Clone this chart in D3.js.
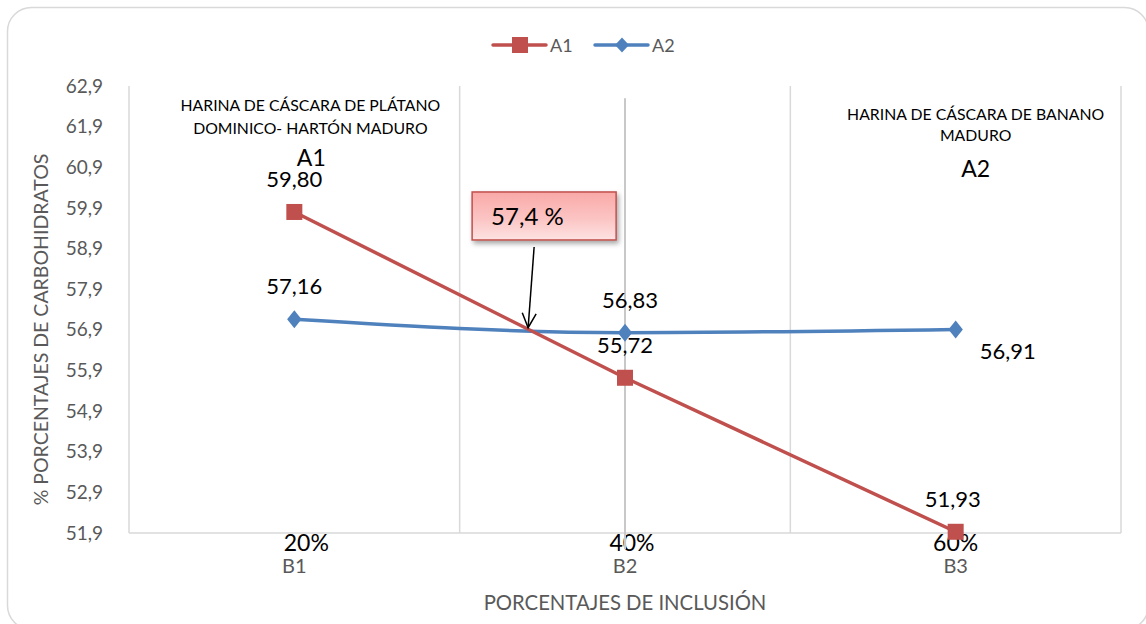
<!DOCTYPE html>
<html>
<head>
<meta charset="utf-8">
<script src="https://cdn.jsdelivr.net/npm/d3@7"></script>
<style>
  html, body { margin: 0; padding: 0; background: #fff; }
  svg { display: block; font-family: Lato, "Open Sans", sans-serif; }
</style>
</head>
<body>
<svg id="chart" width="1146" height="624"></svg>
<script>
// Categories (inclusion levels) and their percentage labels
const categories = ["B1", "B2", "B3"];
const inclusionLabels = ["20%", "40%", "60%"];

// Carbohydrate percentages for each flour
const seriesA1 = [59.80, 55.72, 51.93];
const seriesA2 = [57.16, 56.83, 56.91];
const seriesNames = ["A1", "A2"];

// Y axis ticks
const yTicks = [51.9, 52.9, 53.9, 54.9, 55.9, 56.9, 57.9, 58.9, 59.9, 60.9, 61.9, 62.9];

// Callout value
const calloutText = "57,4 %";

const RED = "#c0504d", BLUE = "#4f81bd", GRID = "#d9d9d9", AXIS_TXT = "#595959";

const svg = d3.select("#chart");
const fmt = v => d3.format(".2f")(v).replace(".", ",");
const fmtTick = v => d3.format(".1f")(v).replace(".", ",");

// Outer frame
svg.append("rect")
  .attr("x", 7.5).attr("y", 7.5).attr("width", 1141).attr("height", 622)
  .attr("rx", 24).attr("ry", 24)
  .attr("fill", "#fff").attr("stroke", GRID).attr("stroke-width", 1.5);

const plot = { left: 129, right: 1121, top: 86, bottom: 533 };

const x = d3.scaleBand().domain(categories).range([plot.left, plot.right]);
const y = d3.scaleLinear().domain([51.9, 62.9]).range([plot.bottom, plot.top]);
const cx = c => x(c) + x.bandwidth() / 2;

// Vertical gridlines between categories
const gridG = svg.append("g");
const bounds = categories.map(c => x(c)).concat([x(categories[categories.length - 1]) + x.bandwidth()]);
gridG.selectAll("line").data(bounds).join("line")
  .attr("x1", d => d).attr("x2", d => d)
  .attr("y1", plot.top).attr("y2", plot.bottom)
  .attr("stroke", GRID).attr("stroke-width", 1.5);

// X axis baseline
svg.append("line")
  .attr("x1", plot.left).attr("x2", plot.right)
  .attr("y1", plot.bottom).attr("y2", plot.bottom)
  .attr("stroke", GRID).attr("stroke-width", 1.5);

// Y axis labels
const yAxis = d3.axisLeft(y).tickValues(yTicks).tickFormat(fmtTick).tickSize(0).tickPadding(26);
const yg = svg.append("g").attr("transform", `translate(${plot.left},0)`).call(yAxis);
yg.select(".domain").remove();
yg.selectAll("text").attr("fill", AXIS_TXT).style("font-size", "19px").style("font-family", "Lato, sans-serif");

// Y axis title
svg.append("text")
  .attr("transform", `translate(48,${(plot.top + plot.bottom) / 2 + 20}) rotate(-90)`)
  .attr("text-anchor", "middle")
  .attr("fill", AXIS_TXT).style("font-size", "19.5px")
  .text("% PORCENTAJES DE CARBOHIDRATOS");

// X axis category labels
const xAxis = d3.axisBottom(x).tickSize(0).tickPadding(26);
const xg = svg.append("g").attr("transform", `translate(0,${plot.bottom})`).call(xAxis);
xg.select(".domain").remove();
xg.selectAll("text").attr("fill", AXIS_TXT).style("font-size", "20px").style("font-family", "Lato, sans-serif");

// Inclusion percentage labels
svg.append("g").selectAll("text").data(categories).join("text")
  .attr("x", (c, i) => cx(c) + [12, 7, 0][i])
  .attr("y", plot.bottom + 18)
  .attr("text-anchor", "middle")
  .attr("fill", "#000").style("font-size", "23px")
  .text((c, i) => inclusionLabels[i]);

// X axis title
svg.append("text")
  .attr("x", (plot.left + plot.right) / 2).attr("y", 610)
  .attr("text-anchor", "middle")
  .attr("fill", AXIS_TXT).style("font-size", "20.3px")
  .text("PORCENTAJES DE INCLUSIÓN");

// Vertical reference line at the middle category
svg.append("line")
  .attr("x1", cx("B2")).attr("x2", cx("B2"))
  .attr("y1", y(62.6)).attr("y2", plot.bottom + 16)
  .attr("stroke", "#c8c8c8").attr("stroke-width", 2);

// Series lines
const line = d3.line().x((d, i) => cx(categories[i])).y(d => y(d));
const lineA2 = d3.line().curve(d3.curveMonotoneX).x((d, i) => cx(categories[i])).y(d => y(d));

svg.append("path").datum(seriesA2).attr("d", lineA2)
  .attr("fill", "none").attr("stroke", BLUE).attr("stroke-width", 3.5).attr("stroke-linejoin", "round");
svg.append("path").datum(seriesA1).attr("d", line)
  .attr("fill", "none").attr("stroke", RED).attr("stroke-width", 3.5).attr("stroke-linejoin", "round");

// Markers
const dia = 9;
svg.append("g").selectAll("path").data(seriesA2).join("path")
  .attr("d", (d, i) => {
    const px = cx(categories[i]), py = y(d);
    return `M${px},${py - dia}L${px + dia * 0.8},${py}L${px},${py + dia}L${px - dia * 0.8},${py}Z`;
  })
  .attr("fill", BLUE);
const sq = 16;
svg.append("g").selectAll("rect").data(seriesA1).join("rect")
  .attr("x", (d, i) => cx(categories[i]) - sq / 2)
  .attr("y", d => y(d) - sq / 2)
  .attr("width", sq).attr("height", sq)
  .attr("fill", RED);

// Data labels
const labelStyle = s => s.attr("text-anchor", "middle").attr("fill", "#000").style("font-size", "22px");
// A1 labels sit above their markers
svg.append("g").selectAll("text").data(seriesA1).join("text")
  .attr("x", (d, i) => cx(categories[i]) + [0, 0, -3][i])
  .attr("y", d => y(d) - 25)
  .call(labelStyle)
  .text(fmt);
// A2 labels: above for the first two, right-below for the last
svg.append("g").selectAll("text").data(seriesA2).join("text")
  .attr("x", (d, i) => cx(categories[i]) + [0, 5, 52][i])
  .attr("y", (d, i) => y(d) + [-25, -25, 30][i])
  .call(labelStyle)
  .text(fmt);

// Series descriptions
const descA1 = ["HARINA DE CÁSCARA DE PLÁTANO", "DOMINICO- HARTÓN MADURO"];
const descA2 = ["HARINA DE CÁSCARA DE BANANO", "MADURO"];
const descG = svg.append("g").attr("fill", "#000").style("font-size", "15.8px").attr("text-anchor", "middle");
descG.selectAll("text.a1").data(descA1).join("text").attr("class", "a1")
  .attr("x", cx("B1") + 16).attr("y", (d, i) => 111 + i * 23).text(d => d);
descG.selectAll("text.a2").data(descA2).join("text").attr("class", "a2")
  .attr("x", cx("B3") + 20).attr("y", (d, i) => 120 + i * 21).text(d => d);
svg.append("text").attr("x", cx("B1") + 17).attr("y", 166)
  .attr("text-anchor", "middle").style("font-size", "23px").attr("fill", "#000").text(seriesNames[0]);
svg.append("text").attr("x", cx("B3") + 20).attr("y", 177)
  .attr("text-anchor", "middle").style("font-size", "23px").attr("fill", "#000").text(seriesNames[1]);

// Crossing point of the two series between B1 and B2
const d1 = seriesA1[0] - seriesA2[0], d2 = seriesA1[1] - seriesA2[1];
const t = d1 / (d1 - d2);
const crossX = cx("B1") + t * (cx("B2") - cx("B1"));
const crossY = y(seriesA2[0] + t * (seriesA2[1] - seriesA2[0]));

// Callout box
const defs = svg.append("defs");
const grad = defs.append("linearGradient").attr("id", "calloutFill").attr("x1", 0).attr("y1", 0).attr("x2", 0).attr("y2", 1);
grad.append("stop").attr("offset", "0%").attr("stop-color", "#f9a9a7");
grad.append("stop").attr("offset", "55%").attr("stop-color", "#fbc4c3");
grad.append("stop").attr("offset", "100%").attr("stop-color", "#fde3e2");
const shadow = defs.append("filter").attr("id", "boxShadow").attr("x", "-20%").attr("y", "-20%").attr("width", "150%").attr("height", "160%");
shadow.append("feDropShadow").attr("dx", 2).attr("dy", 3).attr("stdDeviation", 2.5).attr("flood-color", "#000").attr("flood-opacity", 0.35);

const box = { x: crossX - 55, y: y(59.8) - 20, w: 144, h: 48 };
svg.append("rect")
  .attr("x", box.x).attr("y", box.y).attr("width", box.w).attr("height", box.h)
  .attr("fill", "url(#calloutFill)").attr("stroke", RED).attr("stroke-width", 1.5)
  .attr("filter", "url(#boxShadow)");
svg.append("text")
  .attr("x", box.x + 19).attr("y", box.y + 33)
  .attr("fill", "#000").style("font-size", "24px")
  .text(calloutText);

// Arrow from callout to crossing point
const ax0 = crossX + 7, ay0 = box.y + box.h + 7;
svg.append("line").attr("x1", ax0).attr("y1", ay0).attr("x2", crossX + 1).attr("y2", crossY - 1)
  .attr("stroke", "#000").attr("stroke-width", 1.5);
const ang = Math.atan2(crossY - 1 - ay0, crossX + 1 - ax0);
const headLen = 16, spread = 0.45;
const tipX = crossX + 1, tipY = crossY - 1;
svg.append("path")
  .attr("d", `M${tipX - headLen * Math.cos(ang - spread)},${tipY - headLen * Math.sin(ang - spread)}L${tipX},${tipY}L${tipX - headLen * Math.cos(ang + spread)},${tipY - headLen * Math.sin(ang + spread)}`)
  .attr("fill", "none").attr("stroke", "#000").attr("stroke-width", 1.5);

// Legend
const legend = svg.append("g").attr("transform", "translate(493,45)");
const items = [{ name: seriesNames[0], color: RED, shape: "square" }, { name: seriesNames[1], color: BLUE, shape: "diamond" }];
items.forEach((it, i) => {
  const g = legend.append("g").attr("transform", `translate(${i * 102},0)`);
  g.append("line").attr("x1", 0).attr("x2", 53).attr("y1", 0).attr("y2", 0)
    .attr("stroke", it.color).attr("stroke-width", 3.5).attr("stroke-linecap", "round");
  if (it.shape === "square") {
    g.append("rect").attr("x", 19).attr("y", -8).attr("width", 16).attr("height", 16).attr("fill", it.color);
  } else {
    g.append("path").attr("d", "M27,-7.5L34,0L27,7.5L20,0Z").attr("fill", it.color);
  }
  g.append("text").attr("x", 57).attr("y", 6.5).attr("fill", AXIS_TXT).style("font-size", "18px").text(it.name);
});
</script>
</body>
</html>
